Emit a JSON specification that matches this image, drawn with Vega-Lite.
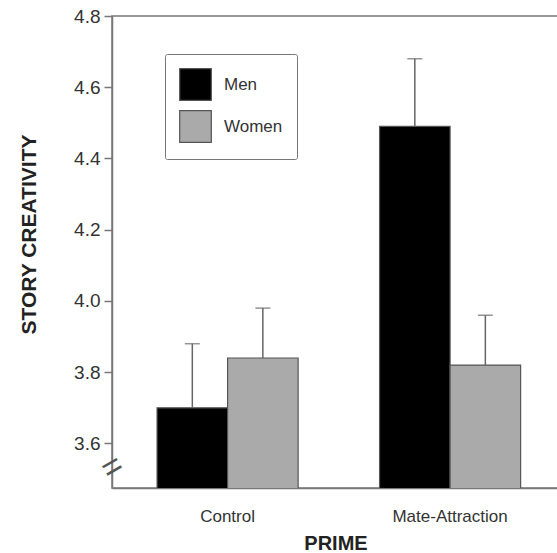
{
  "$schema": "https://vega.github.io/schema/vega-lite/v6.json",
  "width": 447,
  "height": 472,
  "autosize": {"type": "none"},
  "padding": {"left": 112, "top": 16, "right": 0, "bottom": 65},
  "config": {
    "font": "Liberation Sans",
    "view": {"stroke": "#777", "strokeWidth": 1.5}
  },
  "data": {
    "values": [
      {"prime": "Control", "gender": "Men", "mean": 3.70, "upper": 3.88},
      {"prime": "Control", "gender": "Women", "mean": 3.84, "upper": 3.98},
      {"prime": "Mate-Attraction", "gender": "Men", "mean": 4.49, "upper": 4.68},
      {"prime": "Mate-Attraction", "gender": "Women", "mean": 3.82, "upper": 3.96}
    ]
  },
  "encoding": {
    "x": {
      "field": "prime",
      "type": "nominal",
      "sort": ["Control", "Mate-Attraction"],
      "scale": {"paddingInner": 0.366, "paddingOuter": 0.1875, "align": 0.54},
      "axis": {
        "title": "PRIME",
        "titleFontSize": 20,
        "titleFontWeight": "bold",
        "titleColor": "#222",
        "titlePadding": 9,
        "labelAngle": 0,
        "labelFontSize": 17,
        "labelColor": "#333",
        "labelPadding": 20,
        "ticks": false,
        "domainColor": "#777",
        "domainWidth": 1.5,
        "grid": false
      }
    },
    "xOffset": {
      "field": "gender",
      "type": "nominal",
      "sort": ["Men", "Women"],
      "scale": {"paddingInner": 0, "paddingOuter": 0}
    }
  },
  "layer": [
    {
      "mark": {"type": "bar", "stroke": "#555", "strokeWidth": 1.2, "clip": true},
      "encoding": {
        "y": {
          "field": "mean",
          "type": "quantitative",
          "scale": {"domain": [3.475, 4.8], "zero": false, "nice": false},
          "axis": {
            "values": [3.6, 3.8, 4.0, 4.2, 4.4, 4.6, 4.8],
            "format": ".1f",
            "title": "STORY CREATIVITY",
            "titleFontSize": 21,
            "titleFontWeight": "bold",
            "titleColor": "#222",
            "titlePadding": 34,
            "titleY": 218,
            "labelFontSize": 19,
            "labelColor": "#333",
            "labelPadding": 4,
            "tickSize": 8,
            "tickColor": "#777",
            "tickWidth": 1.5,
            "domainColor": "#777",
            "domainWidth": 1.5,
            "grid": false
          }
        },
        "color": {
          "field": "gender",
          "type": "nominal",
          "scale": {"domain": ["Men", "Women"], "range": ["#000000", "#aaaaaa"]},
          "legend": {
            "orient": "none",
            "legendX": 53,
            "legendY": 38,
            "title": null,
            "symbolType": "square",
            "symbolSize": 1000,
            "symbolStrokeColor": "#555",
            "symbolStrokeWidth": 1.2,
            "labelFontSize": 17,
            "labelColor": "#333",
            "labelOffset": 12,
            "rowPadding": 5,
            "padding": 14,
            "strokeColor": "#777",
            "fillColor": "white",
            "cornerRadius": 2
          }
        }
      }
    },
    {
      "mark": {"type": "rule", "color": "#666", "strokeWidth": 1.5},
      "encoding": {
        "y": {"field": "mean", "type": "quantitative", "axis": null},
        "y2": {"field": "upper"}
      }
    },
    {
      "mark": {"type": "tick", "color": "#666", "size": 15, "thickness": 1.5},
      "encoding": {
        "y": {
          "field": "upper",
          "type": "quantitative",
          "axis": {
            "orient": "left",
            "values": [3.533],
            "labelExpr": "'='",
            "labelAngle": -30,
            "labelAlign": "center",
            "labelBaseline": "middle",
            "labelPadding": 0,
            "labelFontSize": 34,
            "labelColor": "#555",
            "domain": false,
            "ticks": false,
            "tickSize": 0,
            "grid": false,
            "title": null
          }
        }
      }
    }
  ],
  "resolve": {"axis": {"y": "independent"}}
}
